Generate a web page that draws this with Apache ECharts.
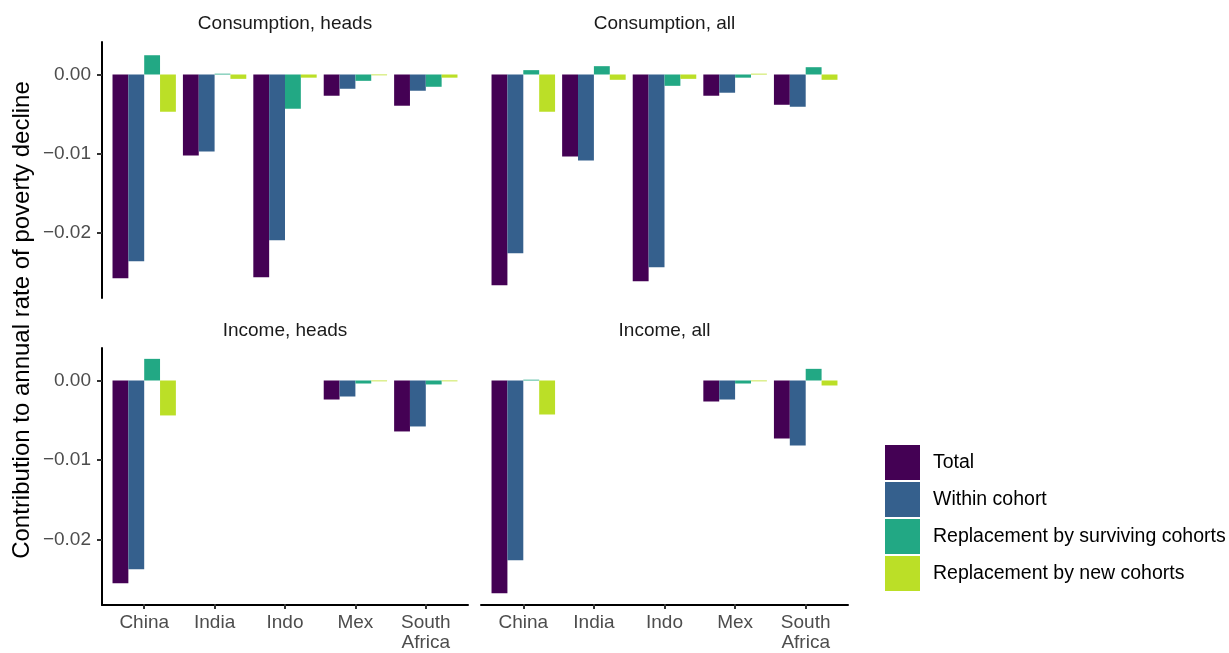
<!DOCTYPE html>
<html>
<head>
<meta charset="utf-8">
<script src="https://cdn.jsdelivr.net/npm/echarts@6/dist/echarts.min.js"></script>
<style>html,body{margin:0;padding:0;background:#fff}#c{width:1229px;height:653px}</style>
</head>
<body>
<div id="c"></div>
<script>
var countries = ['China', 'India', 'Indo', 'Mex', 'South\nAfrica'];
var seriesNames = ['Total', 'Within cohort', 'Replacement by surviving cohorts', 'Replacement by new cohorts'];
var colors = ['#440154', '#35608D', '#22A884', '#BBDF27'];
var panelTitles = ['Consumption, heads', 'Consumption, all', 'Income, heads', 'Income, all'];
var yTicks = [-0.02, -0.01, 0];

// Consumption, heads
var chTotal  = [-0.0257, -0.01023, -0.02558, -0.00268, -0.00394];
var chWithin = [-0.02356, -0.00973, -0.02092, -0.0018, -0.00205];
var chSurv   = [0.00243, 0.0001, -0.00432, -0.0008, -0.00155];
var chNew    = [-0.0047, -0.00055, -0.0004, -0.0001, -0.0004];
// Consumption, all
var caTotal  = [-0.02658, -0.01036, -0.02608, -0.00268, -0.00382];
var caWithin = [-0.02256, -0.01086, -0.02432, -0.0023, -0.00407];
var caSurv   = [0.00055, 0.00105, -0.00143, -0.0004, 0.00092];
var caNew    = [-0.0047, -0.00067, -0.00055, 0.0001, -0.00067];
// Income, heads
var ihTotal  = [-0.02559, null, null, -0.0024, -0.00643];
var ihWithin = [-0.02382, null, null, -0.00202, -0.0058];
var ihSurv   = [0.00273, null, null, -0.00038, -0.0005];
var ihNew    = [-0.00441, null, null, -0.0001, -0.0001];
// Income, all
var iaTotal  = [-0.02685, null, null, -0.00265, -0.00731];
var iaWithin = [-0.02269, null, null, -0.0024, -0.00819];
var iaSurv   = [0.0001, null, null, -0.00038, 0.00147];
var iaNew    = [-0.00429, null, null, -0.0001, -0.00063];

var panelData = [
  [chTotal, chWithin, chSurv, chNew],
  [caTotal, caWithin, caSurv, caNew],
  [ihTotal, ihWithin, ihSurv, ihNew],
  [iaTotal, iaWithin, iaSurv, iaNew]
];

var FONT = 'Liberation Sans, Arial, Helvetica, sans-serif';
var YMIN = -0.0282, YMAX = 0.0041;
var boxes = [
  {left: 102, top: 42, width: 366, height: 256},
  {left: 481, top: 42, width: 367, height: 256},
  {left: 102, top: 348, width: 366, height: 257},
  {left: 481, top: 348, width: 367, height: 257}
];
var inset = 7;

var grids = [], xAxes = [], yAxes = [], series = [], graphics = [];

function fmt(v) {
  if (Math.abs(v) < 1e-12) return '0.00';
  return (v < 0 ? '\u2212' : '') + Math.abs(v).toFixed(2);
}

boxes.forEach(function (b, p) {
  var isLeft = (p % 2 === 0), isBottom = (p >= 2);
  grids.push({left: b.left, top: b.top, width: b.width, height: b.height, containLabel: false});
  xAxes.push({
    type: 'value', gridIndex: 2 * p, min: 0, max: 1,
    axisLine: {show: isBottom, onZero: false, lineStyle: {color: '#000', width: 2}},
    axisTick: {show: false}, axisLabel: {show: false}, splitLine: {show: false}
  });
  yAxes.push({
    type: 'value', gridIndex: 2 * p, min: YMIN, max: YMAX,
    axisLine: {show: isLeft, onZero: false, lineStyle: {color: '#000', width: 2}},
    axisTick: {show: isLeft, length: 5, lineStyle: {color: '#333', width: 2}, customValues: yTicks},
    axisLabel: {show: isLeft, margin: 11, color: '#4D4D4D', fontSize: 19, fontFamily: FONT,
      customValues: yTicks, formatter: fmt},
    splitLine: {show: false}
  });
  grids.push({left: b.left + inset, top: b.top, width: b.width - 2 * inset, height: b.height, containLabel: false});
  xAxes.push({
    type: 'category', gridIndex: 2 * p + 1, data: countries,
    axisLine: {show: false, onZero: false},
    axisTick: {show: isBottom, alignWithLabel: true, length: 5, lineStyle: {color: '#333', width: 2}},
    axisLabel: {show: isBottom, margin: 9, color: '#4D4D4D', fontSize: 19, lineHeight: 20, fontFamily: FONT, interval: 0},
    splitLine: {show: false}
  });
  yAxes.push({type: 'value', gridIndex: 2 * p + 1, min: YMIN, max: YMAX, show: false, splitLine: {show: false}});

  panelData[p].forEach(function (vals, s) {
    series.push({
      type: 'bar', name: seriesNames[s], xAxisIndex: 2 * p + 1, yAxisIndex: 2 * p + 1,
      data: vals.map(function (v) { return v === null ? '-' : v; }),
      barGap: '0%', barCategoryGap: '10%',
      itemStyle: {color: colors[s]}
    });
  });

  graphics.push({
    type: 'text',
    style: {
      x: b.left + b.width / 2, y: isBottom ? 331 : 24,
      text: panelTitles[p], fill: '#1A1A1A', font: '19px ' + FONT,
      textAlign: 'center', textVerticalAlign: 'middle'
    }
  });
});

graphics.push({
  type: 'text', x: 22, y: 320, rotation: Math.PI / 2,
  style: {
    x: 0, y: 0, text: 'Contribution to annual rate of poverty decline',
    fill: '#000', font: '24px ' + FONT, textAlign: 'center', textVerticalAlign: 'middle'
  }
});

var chart = echarts.init(document.getElementById('c'));
chart.setOption({
  animation: false,
  color: colors,
  grid: grids,
  xAxis: xAxes,
  yAxis: yAxes,
  series: series,
  legend: {
    data: seriesNames, orient: 'vertical', left: 885, top: 445, padding: 0,
    itemWidth: 35, itemHeight: 35, itemGap: 2, icon: 'rect',
    selectedMode: false,
    textStyle: {color: '#000', fontSize: 19.5, fontFamily: FONT, padding: [0, 0, 0, 8]}
  },
  graphic: graphics
});
</script>
</body>
</html>
